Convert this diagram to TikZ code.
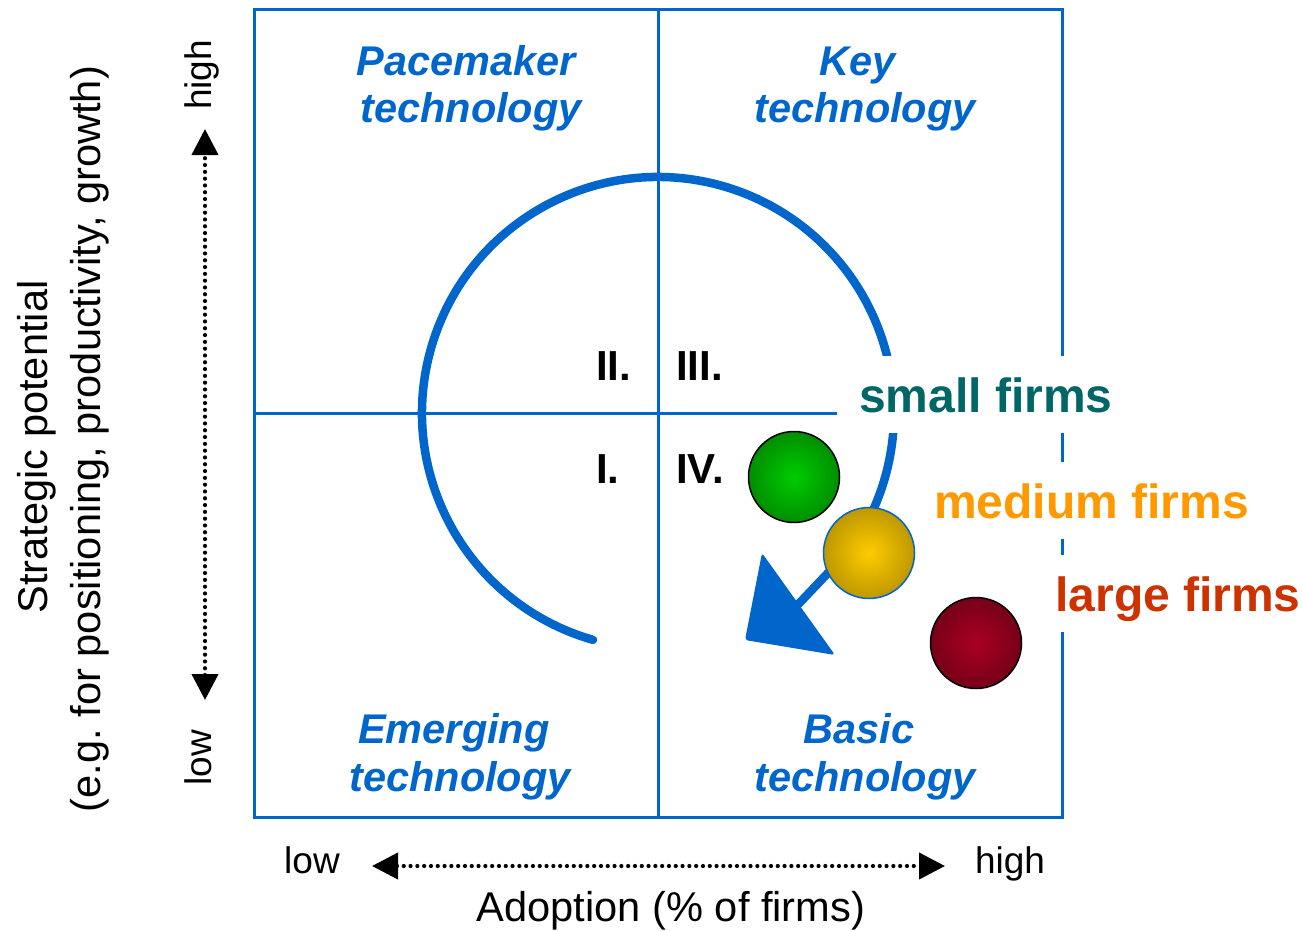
\documentclass[tikz,border=0pt]{standalone}
\usepackage{fontspec}
\setmainfont{Liberation Sans}
\usetikzlibrary{arrows.meta,calc}
\frenchspacing

\definecolor{frameblue}{HTML}{0066CC}
\definecolor{smallcol}{HTML}{006666}
\definecolor{mediumcol}{HTML}{FF9900}
\definecolor{largecol}{HTML}{CC3300}

\tikzset{
  quadtitle/.style={anchor=base, inner sep=0pt, text=frameblue,
    font=\fontsize{41.5}{50}\selectfont\bfseries\itshape},
  numeral/.style={anchor=base west, inner sep=0pt,
    font=\fontsize{42}{50}\selectfont\bfseries},
  axistext/.style={anchor=base, inner sep=0pt,
    font=\fontsize{41.6}{48}\selectfont},
  scaletext/.style={anchor=base, inner sep=0pt,
    font=\fontsize{37}{44}\selectfont},
  firmlabel/.style={anchor=base, fill=white, text height=35pt, text depth=0pt,
    inner xsep=22pt, inner ysep=21pt,
    font=\fontsize{48}{56}\selectfont\bfseries},
  gridline/.style={draw=frameblue, line width=3pt},
  flow/.style={draw=frameblue, line width=8.5pt, line cap=round},
  dotarrow/.style={line width=4.2pt, line cap=round, dash pattern=on 0pt off 6.8pt,
    {Triangle[length=26pt,width=26pt]}-{Triangle[length=26pt,width=26pt]}},
  firmball/.style={circle, minimum size=91pt, inner sep=0pt, line width=1.5pt}
}

\begin{document}
\begin{tikzpicture}[x=1pt, y=1pt]
  \useasboundingbox (0,0) rectangle (1303,-931);

  % portfolio grid
  \coordinate (nw) at (254,-10);
  \coordinate (se) at (1062,-817);
  \coordinate (mt) at (658,-10);
  \coordinate (mb) at (658,-817);
  \coordinate (ml) at (254,-413);
  \coordinate (mr) at (1062,-413);
  \draw[gridline] (nw) rectangle (se);
  \draw[gridline] (mt) -- (mb);
  \draw[gridline] (ml) -- (mr);

  % quadrant names
  \node[quadtitle] (pace1) at (466,-76) {Pacemaker};
  \node[quadtitle] (pace2) at (471,-123) {technology};
  \node[quadtitle] (key1) at (858,-76) {Key};
  \node[quadtitle] (key2) at (865,-123) {technology};
  \node[quadtitle] (emer1) at (454,-743) {Emerging};
  \node[quadtitle] (emer2) at (460,-791) {technology};
  \node[quadtitle] (basic1) at (859,-743) {Basic};
  \node[quadtitle] (basic2) at (865,-791) {technology};

  % phase numbers
  \node[numeral] (n2) at (596,-380) {II.};
  \node[numeral] (n3) at (676,-380) {III.};
  \node[numeral] (n1) at (596,-483) {I.};
  \node[numeral] (n4) at (676,-483) {IV.};

  % technology life cycle
  \coordinate (c) at (658,-413);
  \coordinate (hb) at (798.5,-604);
  \coordinate (hb1) at (762,-553);
  \coordinate (hb2) at (835,-655);
  \coordinate (tip) at (745,-640);
  \draw[flow] ($(c)+(254:236)$) arc[start angle=254, end angle=-35, radius=236] -- (hb);
  \fill[frameblue, rounded corners=3pt] (hb1) -- (tip) -- (hb2) -- cycle;

  % firm size labels
  \node[firmlabel, text=smallcol] (lsmall) at (986,-412) {small firms};
  \node[firmlabel, text=mediumcol] (lmedium) at (1091.5,-518) {medium firms};
  \node[firmlabel, text=largecol] (llarge) at (1178,-611) {large firms};

  % firm size balls
  \node[firmball, draw=black, inner color={rgb,255:red,0;green,204;blue,0},
        outer color={rgb,255:red,0;green,142;blue,0}] (bsmall) at (794,-477) {};
  \node[firmball, draw=frameblue, inner color={rgb,255:red,255;green,204;blue,0},
        outer color={rgb,255:red,190;green,152;blue,0}] (bmedium) at (869,-553) {};
  \node[firmball, draw=black, inner color={rgb,255:red,170;green,0;blue,32},
        outer color={rgb,255:red,118;green,0;blue,24}] (blarge) at (976,-643) {};

  % horizontal axis
  \coordinate (xa) at (372,-866);
  \coordinate (xb) at (945,-866);
  \draw[dotarrow] (xa) -- (xb);
  \node[scaletext] (xlow) at (312,-873) {low};
  \node[scaletext] (xhigh) at (1010,-873) {high};
  \node[axistext] (xlabel) at (671,-921) {Adoption (\% of firms)};

  % vertical axis
  \coordinate (ya) at (205,-700);
  \coordinate (yb) at (205,-129);
  \draw[dotarrow] (ya) -- (yb);
  \node[scaletext, rotate=90] (yhigh) at (211,-75) {high};
  \node[scaletext, rotate=90] (ylow) at (211,-758) {low};
  \node[axistext, rotate=90] (ylabel1) at (47,-447) {Strategic potential};
  \node[axistext, rotate=90] (ylabel2) at (100,-439) {(e.g. for positioning, productivity, growth)};
\end{tikzpicture}
\end{document}
